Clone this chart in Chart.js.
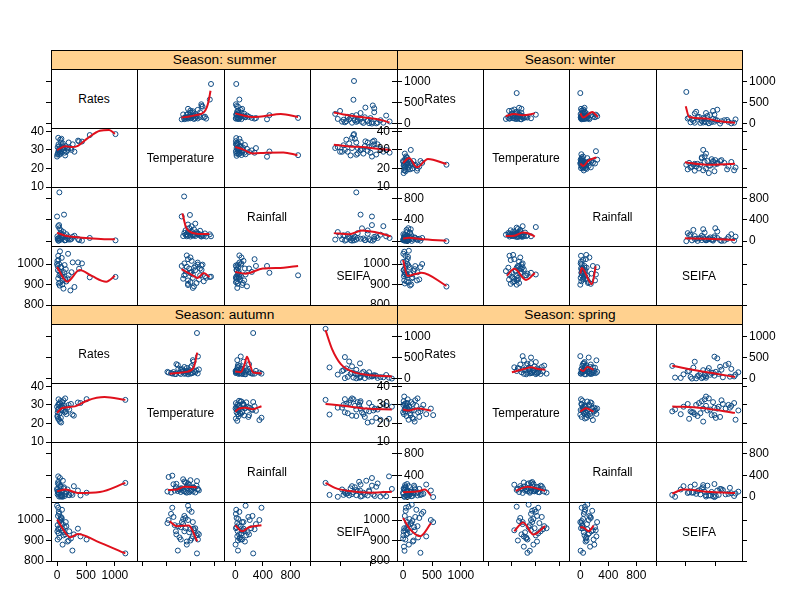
<!DOCTYPE html>
<html>
<head>
<meta charset="utf-8">
<script src="https://cdn.jsdelivr.net/npm/chart.js@4.4.0/dist/chart.umd.min.js"></script>
<style>
body { margin: 0; background: #fff; width: 792px; height: 611px; overflow: hidden; position: relative; font-family: "Liberation Sans", Arial, sans-serif; }
.cell { position: absolute; border: 1px solid #000; box-sizing: border-box; }
.strip { position: absolute; background: #ffd18f; border: 1px solid #000; box-sizing: border-box; font-size: 13.7px; text-align: center; line-height: 18px; }
.diag { position: absolute; display: flex; align-items: center; justify-content: center; font-size: 12px; }
canvas { position: absolute; }
</style>
</head>
<body>
<script>
const seasons = ['summer', 'winter', 'autumn', 'spring'];
const varNames = ['Rates', 'Temperature', 'Rainfall', 'SEIFA'];
const varTicks = [[0, 500, 1000], [10, 20, 30, 40], [0, 400, 800], [800, 900, 1000]];

// summer
const summerRates = [1010, 565, 40, 0, 120, 380, 363, 270, 230, 300, 430, 20, 50, 80, 10, 150, 60, 100, 30, 180, 70, 5, 200, 90, 40, 130, 25, 160, 55, 110, 15, 75, 250, 35, 140, 65, 190, 45, 95, 20];
const summerTemp = [38.5, 38.0, 27.4, 26.4, 29.8, 34.6, 35.0, 33.0, 31.0, 29.0, 34.5, 29.0, 28.5, 30.5, 31.5, 32.0, 28.0, 33.5, 30.0, 31.0, 29.5, 27.5, 34.0, 32.5, 30.5, 28.5, 33.0, 29.0, 35.5, 31.5, 28.0, 36.0, 30.0, 32.0, 27.0, 34.0, 30.0, 29.0, 31.0, 36.5];
const summerRain = [15, 60, 910, 460, 495, 20, 40, 80, 30, 100, 10, 280, 60, 120, 40, 20, 150, 70, 10, 50, 200, 90, 30, 110, 240, 15, 60, 130, 25, 170, 50, 80, 45, 300, 20, 140, 90, 35, 60, 10];
const summerSeifa = [937, 935, 945, 1000, 960, 977, 1008, 1008, 871, 888, 1003, 1040, 1062, 1030, 990, 975, 950, 920, 905, 930, 985, 1015, 945, 900, 965, 995, 1020, 915, 910, 880, 970, 940, 960, 1000, 925, 985, 1050, 895, 950, 930];

// winter
const winterRates = [750, 133, 240, 60, 90, 330, 250, 20, 40, 110, 10, 70, 150, 30, 0, 200, 50, 120, 80, 15, 180, 45, 95, 5, 160, 35, 75, 280, 25, 55, 140, 10, 100, 65, 210, 30, 85, 120, 20, 300];
const winterTemp = [22.0, 30.0, 18.8, 22.0, 24.5, 23.0, 20.0, 19.0, 21.0, 23.5, 17.5, 25.5, 22.5, 20.5, 24.0, 21.5, 26.5, 19.5, 23.0, 22.0, 24.0, 18.5, 21.0, 23.5, 20.0, 25.0, 22.5, 21.0, 19.0, 24.5, 23.0, 21.5, 20.5, 26.0, 22.0, 28.0, 19.5, 23.5, 22.5, 24.0];
const winterRain = [0, 223, 40, 210, 242, 60, 20, 10, 80, 30, 50, 100, 5, 120, 20, 70, 40, 150, 10, 60, 30, 90, 15, 130, 50, 25, 180, 45, 75, 5, 110, 35, 85, 20, 60, 15, 40, 160, 95, 10];
const winterSeifa = [890, 950, 920, 915, 993, 1000, 960, 1060, 1040, 985, 970, 945, 930, 905, 1010, 975, 955, 895, 1025, 940, 965, 990, 910, 1050, 935, 980, 1000, 925, 950, 1015, 900, 970, 1065, 945, 990, 960, 1035, 955, 920, 985];

// autumn
const autumnRates = [1180, 510, 265, 360, 290, 405, 50, 20, 100, 0, 30, 80, 150, 10, 60, 120, 40, 200, 15, 90, 70, 180, 25, 130, 55, 5, 240, 35, 110, 75, 160, 20, 95, 45, 210, 65, 140, 10, 85, 30];
const autumnTemp = [32.7, 33.1, 24.8, 31.3, 24.2, 31.0, 21.0, 22.5, 27.0, 29.0, 30.5, 28.0, 26.5, 23.5, 32.0, 29.5, 25.5, 30.0, 27.5, 31.5, 20.5, 28.5, 33.0, 26.0, 29.0, 24.0, 30.5, 22.0, 32.5, 27.0, 25.0, 30.0, 28.5, 31.0, 27.5, 23.0, 33.5, 26.0, 29.5, 28.0];
const autumnRain = [260, 80, 40, 120, 200, 30, 350, 380, 300, 150, 60, 20, 100, 50, 10, 180, 70, 40, 250, 110, 30, 140, 90, 20, 210, 130, 60, 10, 160, 45, 80, 280, 5, 120, 35, 190, 55, 100, 15, 230];
const autumnSeifa = [837, 905, 851, 958, 930, 920, 1000, 1060, 980, 1070, 1040, 1010, 990, 975, 960, 940, 915, 900, 1020, 950, 985, 895, 935, 965, 1000, 945, 910, 1030, 925, 1005, 970, 955, 880, 990, 945, 1015, 930, 905, 1050, 960];

// spring
const springRates = [300, 520, 480, 400, 350, 250, 200, 150, 100, 50, 0, 280, 20, 70, 120, 30, 180, 90, 10, 230, 60, 140, 40, 320, 80, 15, 110, 190, 5, 160, 45, 260, 75, 25, 130, 210, 55, 95, 35, 170];
const springTemp = [26.5, 24.5, 28.0, 25.0, 30.0, 33.5, 21.0, 27.0, 29.0, 31.0, 26.0, 23.5, 34.5, 28.5, 25.5, 30.5, 22.5, 27.5, 32.0, 29.5, 24.0, 31.5, 26.5, 28.0, 33.0, 25.0, 29.0, 27.0, 30.0, 23.0, 28.5, 26.0, 31.0, 27.5, 24.5, 32.5, 29.5, 22.0, 28.0, 30.5];
const springRain = [40, 0, 120, 230, 60, 30, 180, 100, 200, 20, 80, 150, 10, 240, 50, 130, 90, 30, 160, 70, 110, 15, 190, 50, 100, 140, 40, 210, 60, 20, 170, 85, 125, 5, 95, 145, 35, 65, 220, 75];
const springSeifa = [840, 990, 1000, 920, 1040, 970, 950, 1075, 880, 1060, 910, 1010, 960, 990, 940, 1020, 900, 975, 945, 1050, 930, 985, 905, 1030, 955, 870, 1005, 965, 925, 995, 1045, 915, 935, 850, 980, 1015, 960, 1065, 950, 895];

// smoothers, keyed by row/column of the matrix
const summerSmooth = {
  r0c1: [[26.3, 50], [30, 90], [33, 130], [35.5, 200], [36.8, 350], [37.5, 520], [38.3, 815]],
  r0c2: [[0, 170], [120, 110], [240, 65], [410, 90], [660, 150], [910, 65]],
  r0c3: [[866, 265], [900, 215], [944, 170], [980, 140], [1010, 115], [1040, 70], [1062, 25]],
  r1c0: [[0, 29.9], [145, 32], [250, 31.5], [360, 32.2], [525, 36.2], [740, 40.3], [900, 40.7], [1000, 38.6]],
  r1c2: [[0, 32.8], [120, 31], [255, 28.5], [445, 29], [697, 29.2], [900, 27.4]],
  r1c3: [[866, 32.8], [920, 31.8], [966, 31.5], [1010, 30.8], [1066, 29.9]],
  r2c0: [[0, 158], [145, 102], [300, 80], [560, 53], [860, 34], [1000, 34]],
  r2c1: [[26.7, 530], [27.5, 350], [28.1, 221], [29.9, 115], [32, 80], [34.1, 65], [37.8, 65]],
  r2c3: [[866, 150], [920, 130], [965, 200], [1010, 170], [1066, 90]],
  r3c0: [[0, 985], [175, 914], [390, 971], [600, 942], [850, 914], [1000, 942]],
  r3c1: [[26.3, 982], [29, 960], [31.8, 938], [33, 930], [35.5, 958], [37.9, 935]],
  r3c2: [[0, 965], [150, 955], [400, 985], [700, 990], [910, 1000]]
};
const winterSmooth = {
  r0c1: [[17.4, 90], [21, 155], [24.7, 115], [29.6, 170]],
  r0c2: [[0, 170], [40, 50], [170, 210], [250, 65]],
  r0c3: [[888, 410], [900, 155], [960, 120], [1000, 60], [1063, 20]],
  r1c0: [[0, 22.9], [105, 25.6], [240, 20.6], [430, 25.1], [750, 22.4]],
  r1c2: [[0, 22], [40, 20.4], [120, 24], [230, 26]],
  r1c3: [[885, 23.3], [960, 22], [1063, 22.5]],
  r2c0: [[0, 52], [105, 63], [300, 40], [750, 7]],
  r2c1: [[17.4, 22], [21, 30], [24.7, 100], [27, 80], [29.6, 10]],
  r2c3: [[885, 55], [960, 45], [1063, 22]],
  r3c0: [[0, 1020], [78, 942], [320, 958], [750, 893]],
  r3c1: [[17.9, 942], [21, 983], [25.9, 918], [29.6, 958]],
  r3c2: [[0, 955], [20, 988], [166, 893], [220, 998]]
};
const autumnSmooth = {
  r0c1: [[21.4, 15], [24.5, 40], [28.2, 70], [31.3, 185], [32.8, 620]],
  r0c2: [[0, 80], [80, 60], [130, 250], [170, 500], [210, 300], [260, 50], [380, 30]],
  r0c3: [[837, 1150], [860, 700], [890, 350], [930, 170], [980, 90], [1070, 50]],
  r1c0: [[0, 25.7], [90, 28.3], [310, 29.2], [525, 32.4], [820, 34.2], [1180, 32.7]],
  r1c2: [[0, 26.5], [60, 28.5], [150, 29], [250, 28], [380, 30]],
  r1c3: [[837, 30.5], [900, 29.5], [980, 28], [1070, 27.5]],
  r2c0: [[0, 106], [150, 137], [360, 76], [740, 94], [1180, 260]],
  r2c1: [[20.7, 63], [24.4, 76], [27.5, 137], [32.6, 124]],
  r2c3: [[837, 260], [870, 170], [920, 110], [1000, 80], [1070, 100]],
  r3c0: [[0, 1002], [230, 916], [360, 932], [690, 896], [1180, 837]],
  r3c1: [[21.4, 994], [24.4, 970], [29.3, 973], [32.8, 896]],
  r3c2: [[0, 975], [100, 945], [200, 965], [380, 975]]
};
const springSmooth = {
  r0c1: [[20, 60], [25, 150], [28, 200], [31, 150], [34, 130]],
  r0c2: [[0, 146], [40, 92], [100, 210], [190, 132]],
  r0c3: [[840, 305], [946, 170], [996, 115], [1063, 38]],
  r1c0: [[0, 27.5], [100, 27], [250, 28], [480, 27]],
  r1c2: [[0, 26.5], [80, 28.6], [190, 26.5]],
  r1c3: [[840, 29.2], [946, 28.3], [1063, 25.7]],
  r2c0: [[0, 87], [270, 106], [376, 137], [483, 26]],
  r2c1: [[21.6, 45], [26.5, 137], [33.9, 45]],
  r2c3: [[840, 63], [880, 137], [980, 94], [1063, 76]],
  r3c0: [[0, 1010], [105, 961], [295, 921], [483, 985]],
  r3c1: [[21, 945], [24.7, 988], [29, 929], [33.9, 970]],
  r3c2: [[0, 966], [60, 961], [120, 945], [190, 973]]
};

const seasonVars = [
  [summerRates, summerTemp, summerRain, summerSeifa],
  [winterRates, winterTemp, winterRain, winterSeifa],
  [autumnRates, autumnTemp, autumnRain, autumnSeifa],
  [springRates, springTemp, springRain, springSeifa]
];
const seasonSmooth = [summerSmooth, winterSmooth, autumnSmooth, springSmooth];

// shared scale limits for each variable
const limits = [[-105, 1295], [10, 41.8], [-90, 1010], [800, 1088]];

// panel geometry
const colX = [[51, 137, 224, 310, 397], [397, 483, 569, 656, 742]];
const rowY = [[69, 128, 187, 246, 305], [324, 383, 442, 502, 561]];
const STRIP = 19, AX = 45, BX = 28, PAD = 8;
const pointCol = '#104c84';
const lineCol = '#e0101c';

Chart.defaults.font.family = '"Liberation Sans", Arial, sans-serif';
Chart.defaults.font.size = 12;
Chart.defaults.color = '#000';

function addDiv(cls, x, y, w, h, text) {
  const d = document.createElement('div');
  d.className = cls;
  d.style.left = x + 'px';
  d.style.top = y + 'px';
  d.style.width = w + 'px';
  d.style.height = h + 'px';
  if (text) d.textContent = text;
  document.body.appendChild(d);
  return d;
}

function axis(v, show, labeled, pos) {
  const o = {
    type: 'linear',
    position: pos,
    min: limits[v][0],
    max: limits[v][1],
    display: show,
    grid: { drawOnChartArea: false, drawTicks: true, tickLength: 5, color: '#000', lineWidth: 1 },
    border: { display: false },
    ticks: {
      autoSkip: false, maxRotation: 0, padding: 2, color: '#000',
      callback: val => labeled ? String(val) : ''
    },
    afterBuildTicks: s => { s.ticks = varTicks[v].map(t => ({ value: t })); }
  };
  if (show) {
    o.afterFit = s => {
      if (pos === 'bottom') s.height = BX; else s.width = AX;
      s.paddingTop = 0; s.paddingBottom = 0; s.paddingLeft = 0; s.paddingRight = 0;
    };
  }
  return o;
}

seasons.forEach((name, p) => {
  const pc = p % 2, pr = Math.floor(p / 2);
  const xs = colX[pc], ys = rowY[pr];
  addDiv('strip', xs[0], ys[0] - STRIP, xs[4] - xs[0] + 1, STRIP + 1, 'Season: ' + name);
  const vars = seasonVars[p];
  const smooth = seasonSmooth[p];

  for (let r = 0; r < 4; r++) {
    for (let c = 0; c < 4; c++) {
      const x0 = xs[c], x1 = xs[c + 1], y0 = ys[r], y1 = ys[r + 1];
      const w = x1 - x0, h = y1 - y0;
      addDiv('cell', x0, y0, w + 1, h + 1);

      const yPos = c === 0 ? 'left' : (c === 3 ? 'right' : null);
      const yLabeled = yPos === 'left' ? r % 2 === 1 : r % 2 === 0;
      const hasBottom = pr === 1 && r === 3;
      const hasAxis = !!yPos || hasBottom;

      const datasets = [];
      if (r === c) {
        addDiv('diag', x0, y0, w, h, varNames[r]);
      } else {
        datasets.push({
          data: smooth['r' + r + 'c' + c].map(([x, y]) => ({ x, y })),
          showLine: true, borderColor: lineCol, borderWidth: 2,
          pointRadius: 0, cubicInterpolationMode: 'monotone'
        });
        datasets.push({
          data: vars[c].map((x, i) => ({ x, y: vars[r][i] })),
          showLine: false, pointStyle: 'circle', pointRadius: 2.5,
          borderColor: pointCol, borderWidth: 1, backgroundColor: 'rgba(0,0,0,0)'
        });
      }
      if (!datasets.length && !hasAxis) continue;

      const left = yPos === 'left' ? AX : 0;
      const right = yPos === 'right' ? AX : 0;
      const padV = hasAxis ? PAD : 0;
      const cv = document.createElement('canvas');
      cv.width = w + left + right;
      cv.height = h + 2 * padV + (hasBottom ? BX : 0);
      cv.style.left = (x0 - left) + 'px';
      cv.style.top = (y0 - padV) + 'px';
      document.body.appendChild(cv);

      new Chart(cv, {
        type: 'scatter',
        data: { datasets },
        options: {
          responsive: false,
          animation: false,
          events: [],
          layout: { padding: { top: padV, bottom: padV, left: 0, right: 0 } },
          plugins: { legend: { display: false }, tooltip: { enabled: false } },
          scales: {
            x: axis(c, hasBottom, c % 2 === 0, 'bottom'),
            y: axis(r, !!yPos, yLabeled, yPos || 'left')
          }
        }
      });
    }
  }
});
</script>
</body>
</html>
